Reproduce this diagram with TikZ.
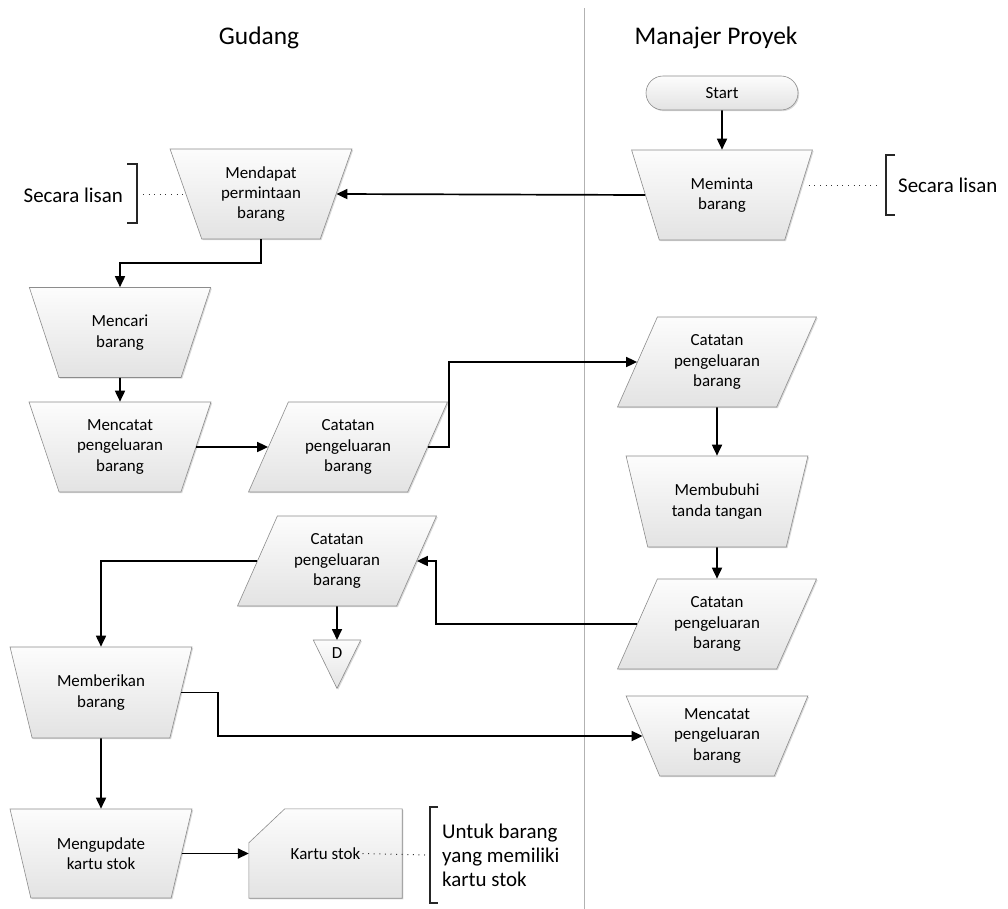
\documentclass[tikz,border=0pt]{standalone}
\usepackage{fontspec}
\setmainfont{Carlito}
\usetikzlibrary{shapes.geometric,arrows.meta,calc,shadows,backgrounds}

\newcommand\boxfont{\fontsize{17}{20.5}\selectfont}
\newcommand\headfont{\fontsize{25.5}{30}\selectfont}
\newcommand\notefont{\fontsize{21}{24}\selectfont}

\begin{document}
\begin{tikzpicture}[x=1bp,y=-1bp,
  shapefill/.style={draw=black!45, line width=0.6bp, top color=black!1, bottom color=black!11,
    drop shadow={opacity=0.15, shadow xshift=1.2bp, shadow yshift=-1.2bp, fill=black}},
  proc/.style={shapefill, trapezium, trapezium stretches=true,
    trapezium left angle=110.7, trapezium right angle=110.7,
    minimum width=182bp, minimum height=90bp, inner sep=2bp, align=center, font=\boxfont},
  docdata/.style={shapefill, trapezium, trapezium stretches=true,
    trapezium left angle=62.9, trapezium right angle=117.1,
    minimum width=199bp, minimum height=90bp, inner sep=2bp, align=center, font=\boxfont},
  terminal/.style={shapefill, rectangle, rounded corners=17bp, minimum width=152bp,
    minimum height=34bp, inner sep=2bp, font=\boxfont},
  arr/.style={line width=1.7bp, black, -{Triangle[length=11bp,width=10bp]}},
  dotline/.style={black!80, line width=1bp, dash pattern=on 1bp off 4.6bp},
  bracket/.style={line width=1.6bp, black!85},
  note/.style={font=\notefont, inner sep=0pt, align=left}]

% canvas
\useasboundingbox (0,0) rectangle (1008,909);
\begin{scope}[on background layer]
  \fill[white] (0,0) rectangle (1008,909);
\end{scope}

% swimlane divider and lane titles
\draw[black!30, line width=0.9bp] (584,8) -- (584,909);
\node[font=\headfont] (laneA) at (259,38) {Gudang};
\node[font=\headfont] (laneB) at (716,38) {Manajer Proyek};

% Manajer Proyek lane
\node[terminal] (start) at (722,93) {Start};
\node[proc] (meminta) at (722,195) {Meminta\\barang};
\node[docdata] (cat2) at (717,362) {Catatan\\pengeluaran\\barang};
\node[proc, minimum height=91bp] (bubuh) at (717,501.5) {Membubuhi\\tanda tangan};
\node[docdata] (cat3) at (717,624) {Catatan\\pengeluaran\\barang};
\node[proc, minimum height=80bp, trapezium left angle=114.2, trapezium right angle=114.2] (catat2) at (717,736) {Mencatat\\pengeluaran\\barang};

% Gudang lane
\node[proc] (dapat) at (261,194) {Mendapat\\permintaan\\barang};
\node[proc] (cari) at (120,332.5) {Mencari\\barang};
\node[proc] (catat) at (120,447) {Mencatat\\pengeluaran\\barang};
\node[docdata] (cat1) at (348,447) {Catatan\\pengeluaran\\barang};
\node[docdata] (cat4) at (337,561) {Catatan\\pengeluaran\\barang};
\node[proc, minimum height=91bp] (beri) at (101,692.5) {Memberikan\\barang};
\node[proc, minimum height=89bp] (update) at (101,853.5) {Mengupdate\\kartu stok};

% off-page storage (triangle D)
\node[minimum width=47bp, minimum height=48bp, inner sep=0pt, anchor=north] (dtri) at (337,640) {};
\path[shapefill] (dtri.north west) -- (dtri.north east) -- (dtri.south) -- cycle;
\node[font=\boxfont, inner sep=0pt] (dlabel) at ($(dtri.north)+(0,13)$) {D};

% stock card with a cut corner
\node[minimum width=153bp, minimum height=89bp, inner sep=0pt, font=\boxfont] (kartu) at (325.5,853.5) {Kartu stok};
\begin{scope}[on background layer]
  \path[shapefill] (kartu.south west) -- (kartu.south east) -- (kartu.north east)
    -- ($(kartu.north west)+(36,0)$) -- ($(kartu.north west)+(0,34)$) -- cycle;
\end{scope}

% flow
\draw[arr] (start.south) -- (meminta.north);
\draw[arr] (meminta.left side) -- (dapat.right side);
\draw[arr] (dapat.south) -- ++(0,24) -| (cari.north);
\draw[arr] (cari.south) -- (catat.north);
\draw[arr] (catat.right side) -- (cat1.left side);
\draw[arr] (cat1.right side) -- ++(21,0) |- (cat2.left side);
\draw[arr] (cat2.south) -- (bubuh.north);
\draw[arr] (bubuh.south) -- (cat3.north);
\draw[arr] (cat3.left side) -| ($(cat4.right side)+(19,0)$) -- (cat4.right side);
\draw[arr] (cat4.left side) -| (beri.north);
\draw[arr] (cat4.south) -- (dtri.north);
\draw[arr] (beri.right side) -- ++(37,0) |- (catat2.left side);
\draw[arr] (beri.south) -- (update.north);
\draw[arr] (update.right side) -- (kartu.west);

% annotations
\coordinate (brA) at (137,194);
\draw[bracket] ($(brA)+(-10,-30)$) -- ++(10,0) -- ++(0,59) -- ++(-10,0);
\node[note, anchor=east] (noteA) at (123,195) {Secara lisan};
\draw[dotline] ($(brA)+(6,0)$) -- (dapat.left side);

\coordinate (brB) at (886,185);
\draw[bracket] ($(brB)+(9,-30)$) -- ++(-9,0) -- ++(0,60) -- ++(9,0);
\node[note, anchor=west] (noteB) at (898,185) {Secara lisan};
\draw[dotline] ($(meminta.right side)+(10,-10)$) -- ($(brB)+(-6,0)$);

\coordinate (brC) at (430,855);
\draw[bracket] ($(brC)+(8,-48)$) -- ++(-8,0) -- ++(0,96) -- ++(8,0);
\node[note, anchor=west] (noteC) at (442,855) {Untuk barang\\yang memiliki\\kartu stok};
\draw[dotline] ($(kartu.center)+(37,0)$) -- ($(brC)+(-5,0)$);

\end{tikzpicture}
\end{document}
